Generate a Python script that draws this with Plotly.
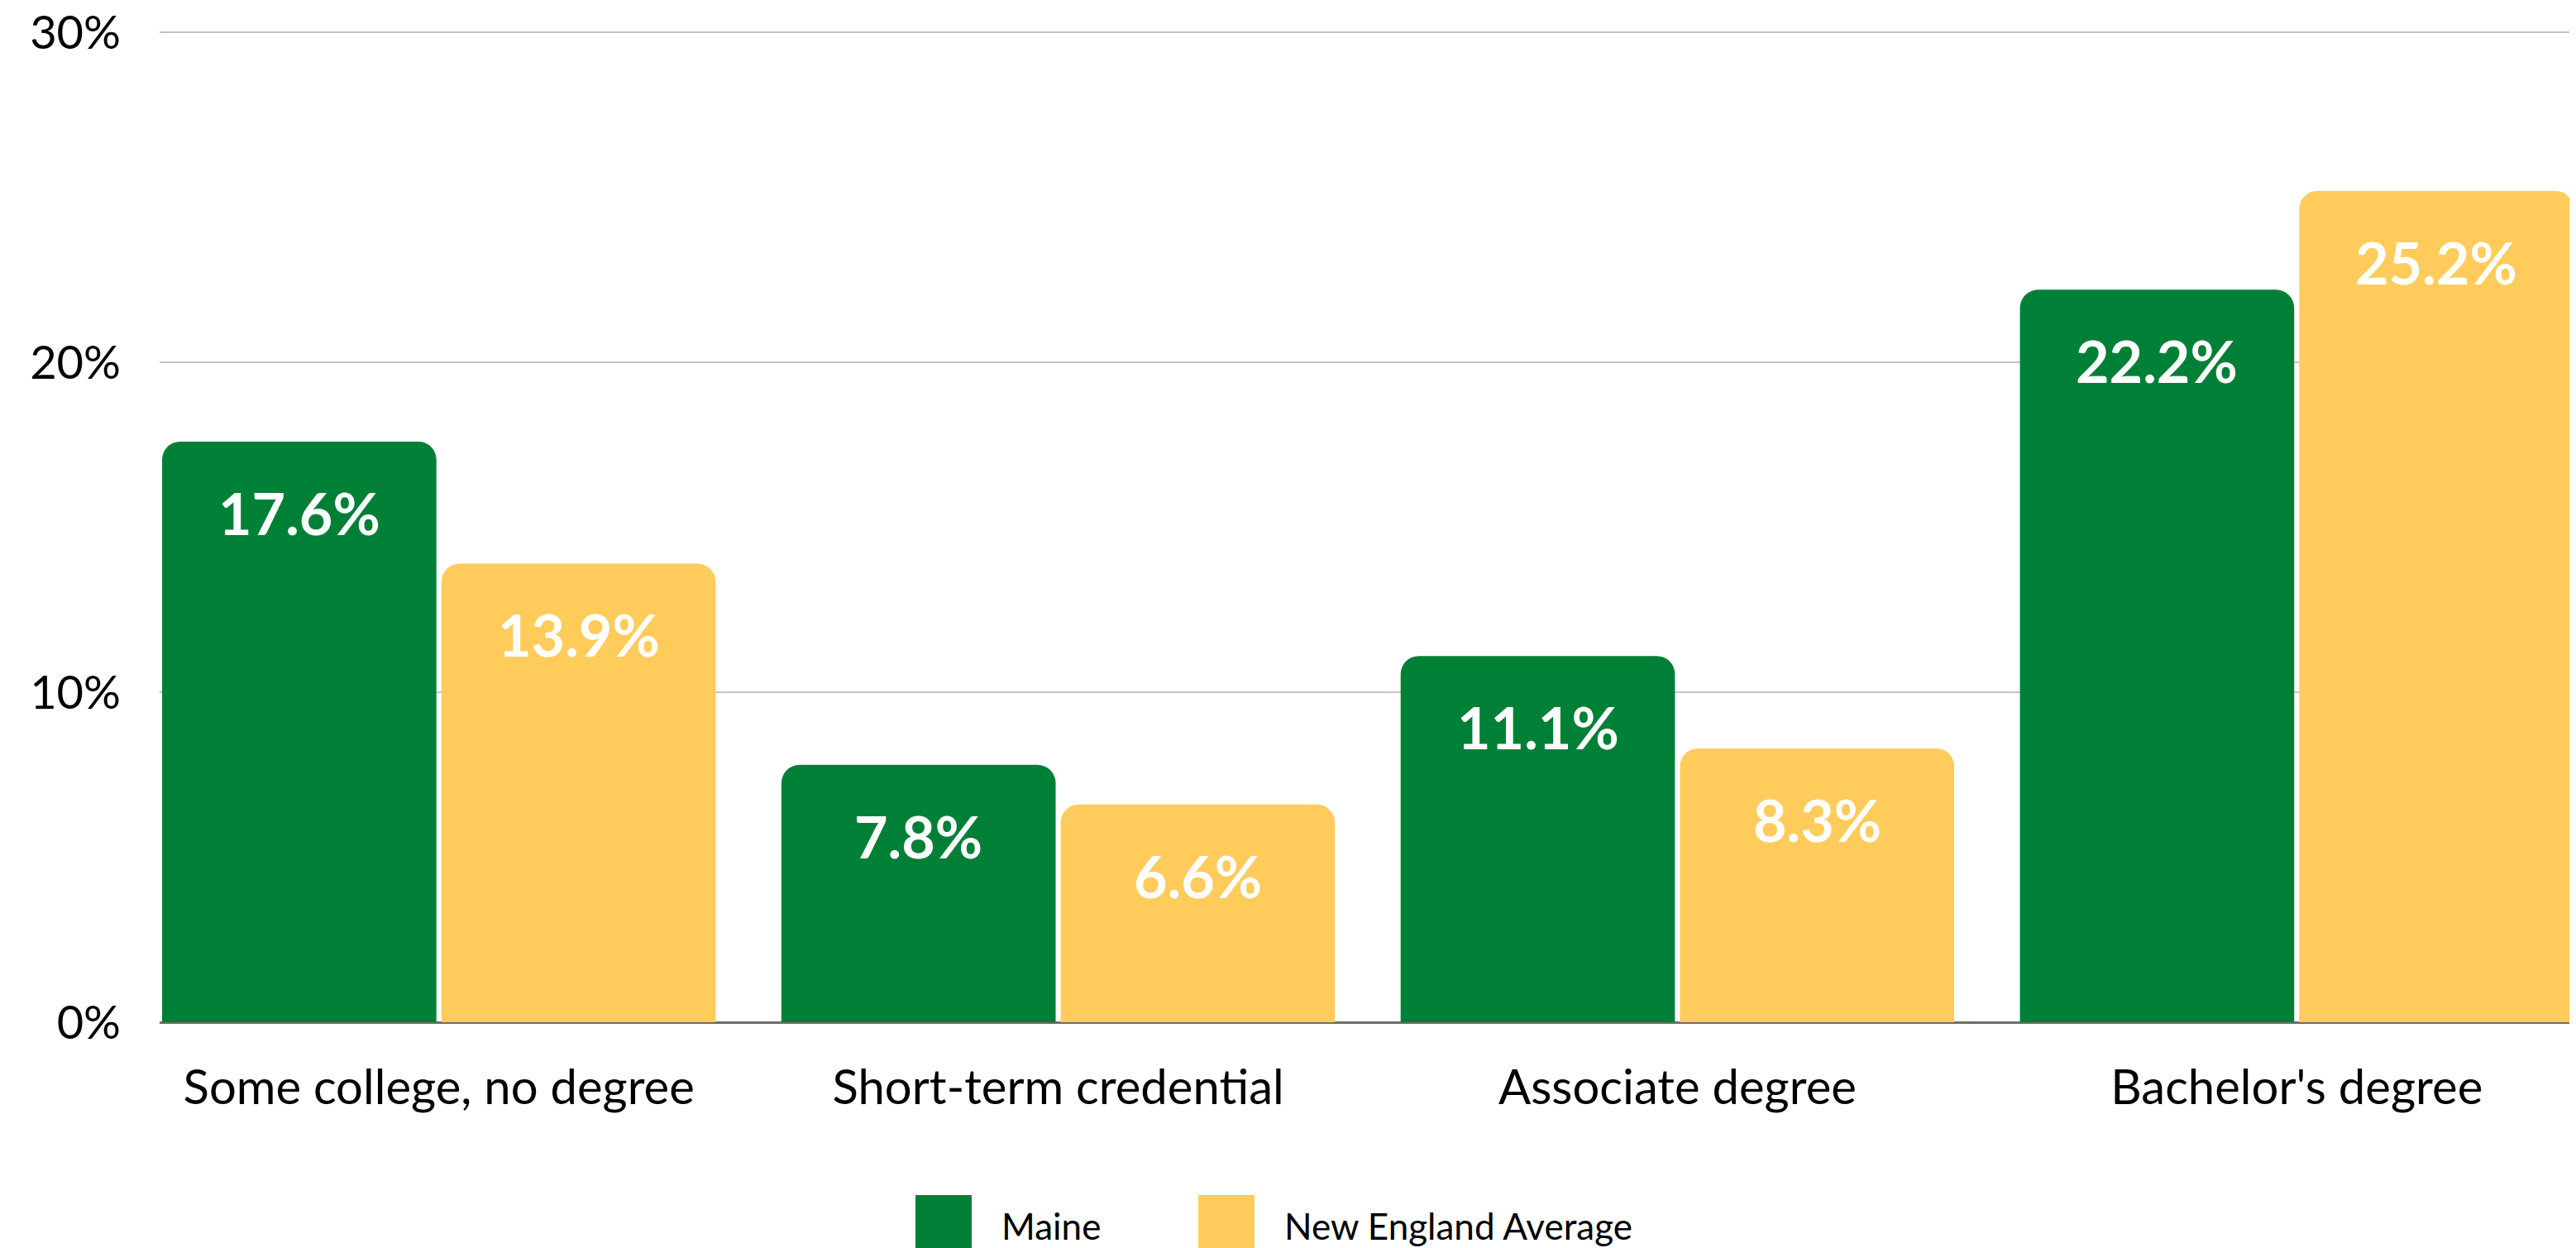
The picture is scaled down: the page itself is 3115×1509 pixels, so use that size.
import plotly.graph_objects as go

categories = ["Some college, no degree", "Short-term credential", "Associate degree", "Bachelor's degree"]
series_names = ["Maine", "New England Average"]
maine = [17.6, 7.8, 11.1, 22.2]
new_england = [13.9, 6.6, 8.3, 25.2]
y_ticks = [0, 10, 20, 30]
y_tick_labels = ["0%", "10%", "20%", "30%"]

GREEN = "#008037"
YELLOW = "#FFCC5C"
colors = [GREEN, YELLOW]

W, H = 3115, 1509
OFF = 8  # page body margin in the browser
M_L, M_R, M_T, M_B = 185, 8, 30, 281
BARGAP = 0.098
FONT = "Lato"

fig = go.Figure()
for name, vals, col in zip(series_names, [maine, new_england], colors):
    fig.add_trace(go.Bar(
        x=categories, y=vals, name=name, marker_color=col,
        marker_line_width=0, showlegend=False,
    ))

# value labels inside the bars, a bit below the rounded top
slot = (1 - BARGAP) / 2
for k, vals in enumerate([maine, new_england]):
    for i, v in enumerate(vals):
        fig.add_annotation(
            x=i + (k - 0.5) * slot, y=v, xref="x", yref="y",
            text=f"{v:.1f}%", showarrow=False, yanchor="middle", yshift=-86,
            font=dict(family=FONT, size=70, color="white", weight="bold"),
        )

# custom legend with big square swatches (screen pixel -> paper helpers)
pw, ph = W - M_L - M_R, H - M_T - M_B
def px(x):
    return (x - OFF - M_L) / pw
def py(y):
    return (H - M_B - (y - OFF)) / ph

legend_x = [1107, 1449]
for name, col, lx in zip(series_names, colors, legend_x):
    fig.add_shape(type="rect", xref="paper", yref="paper",
                  x0=px(lx), x1=px(lx + 68), y0=py(1445), y1=py(1530),
                  fillcolor=col, line_width=0)
    fig.add_annotation(x=px(lx + 102), y=py(1482), xref="paper", yref="paper",
                       text=name, showarrow=False, xanchor="left", yanchor="middle",
                       font=dict(family=FONT, size=44, color="black"))

fig.update_layout(
    width=W, height=H,
    margin=dict(l=M_L, r=M_R, t=M_T, b=M_B, autoexpand=False),
    paper_bgcolor="white", plot_bgcolor="white",
    barmode="group", bargap=BARGAP, bargroupgap=0.018,
    barcornerradius=22,
    font=dict(family=FONT, color="black"),
)
fig.update_xaxes(
    range=[-0.5 + BARGAP / 2, 3.5 - BARGAP / 2],
    showgrid=False, showline=False, ticks="", automargin=False,
    tickfont=dict(family=FONT, size=58, color="black"),
    ticklabelstandoff=40,
)
fig.update_yaxes(
    range=[0, 30.03], tickvals=y_ticks, ticktext=y_tick_labels,
    showgrid=True, gridcolor="#C4C4C4", gridwidth=2,
    zeroline=True, zerolinecolor="#6E6E6E", zerolinewidth=3,
    showline=False, ticks="", automargin=False,
    tickfont=dict(family=FONT, size=56, color="black"),
    ticklabelstandoff=46, ticklabeloverflow="allow",
)

fig.write_html("out.html")
